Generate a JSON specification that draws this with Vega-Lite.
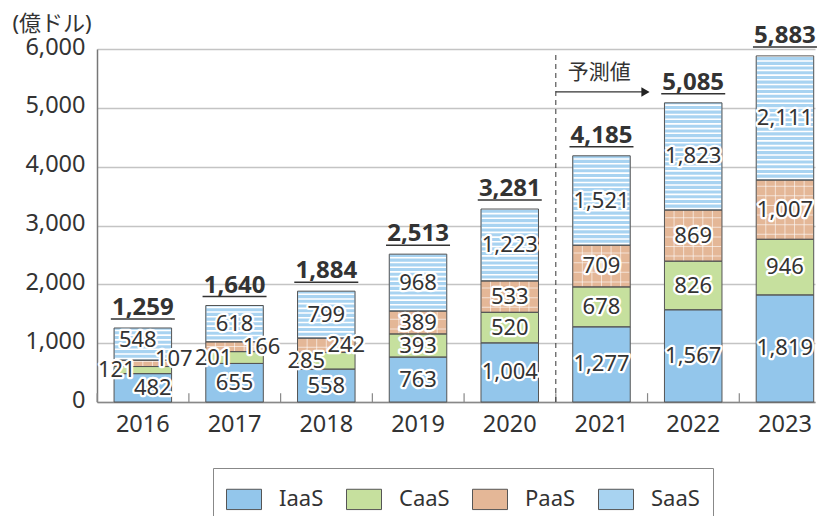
{
  "$schema": "https://vega.github.io/schema/vega-lite/v6.json",
  "width": 718,
  "height": 353,
  "autosize": {"type": "none"},
  "padding": {"left": 97, "top": 49, "right": 3, "bottom": 114},
  "background": "white",
  "config": {
    "font": "Noto Sans, Noto Sans CJK JP",
    "view": {"stroke": null}
  },
  "datasets": {
    "seg": [
      {"year": "2016", "type": "IaaS", "value": 482},
      {"year": "2016", "type": "CaaS", "value": 121},
      {"year": "2016", "type": "PaaS", "value": 107},
      {"year": "2016", "type": "SaaS", "value": 548},
      {"year": "2017", "type": "IaaS", "value": 655},
      {"year": "2017", "type": "CaaS", "value": 201},
      {"year": "2017", "type": "PaaS", "value": 166},
      {"year": "2017", "type": "SaaS", "value": 618},
      {"year": "2018", "type": "IaaS", "value": 558},
      {"year": "2018", "type": "CaaS", "value": 285},
      {"year": "2018", "type": "PaaS", "value": 242},
      {"year": "2018", "type": "SaaS", "value": 799},
      {"year": "2019", "type": "IaaS", "value": 763},
      {"year": "2019", "type": "CaaS", "value": 393},
      {"year": "2019", "type": "PaaS", "value": 389},
      {"year": "2019", "type": "SaaS", "value": 968},
      {"year": "2020", "type": "IaaS", "value": 1004},
      {"year": "2020", "type": "CaaS", "value": 520},
      {"year": "2020", "type": "PaaS", "value": 533},
      {"year": "2020", "type": "SaaS", "value": 1223},
      {"year": "2021", "type": "IaaS", "value": 1277},
      {"year": "2021", "type": "CaaS", "value": 678},
      {"year": "2021", "type": "PaaS", "value": 709},
      {"year": "2021", "type": "SaaS", "value": 1521},
      {"year": "2022", "type": "IaaS", "value": 1567},
      {"year": "2022", "type": "CaaS", "value": 826},
      {"year": "2022", "type": "PaaS", "value": 869},
      {"year": "2022", "type": "SaaS", "value": 1823},
      {"year": "2023", "type": "IaaS", "value": 1819},
      {"year": "2023", "type": "CaaS", "value": 946},
      {"year": "2023", "type": "PaaS", "value": 1007},
      {"year": "2023", "type": "SaaS", "value": 2111}
    ],
    "tot": [
      {"year": "2016", "total": 1259},
      {"year": "2017", "total": 1640},
      {"year": "2018", "total": 1884},
      {"year": "2019", "total": 2513},
      {"year": "2020", "total": 3281},
      {"year": "2021", "total": 4185},
      {"year": "2022", "total": 5085},
      {"year": "2023", "total": 5883}
    ],
    "ann": [{"label": "予測値"}]
  },
  "layer": [
    {
      "data": {"name": "seg"},
      "transform": [{"calculate": "indexof(['IaaS','CaaS','PaaS','SaaS'], datum.type)", "as": "ord"}],
      "mark": {"type": "bar"},
      "encoding": {
        "x": {
          "field": "year", "type": "nominal",
          "scale": {"paddingInner": 0.373, "paddingOuter": 0.1, "align": 0.93},
          "axis": {
            "title": null, "labelAngle": 0, "labelFontSize": 23.5, "labelColor": "#333333",
            "domainColor": "#888888", "domainWidth": 1.5,
            "ticks": false, "tickSize": 0,
            "labelPadding": 10, "grid": false
          }
        },
        "y": {
          "field": "value", "type": "quantitative", "stack": "zero",
          "scale": {"domain": [0, 6000], "nice": false},
          "axis": {
            "values": [0, 1000, 2000, 3000, 4000, 5000, 6000],
            "labelExpr": "format(datum.value, ',')",
            "title": "(億ドル)", "titleAngle": 0, "titleX": -85, "titleY": -19,
            "titleAlign": "left", "titleBaseline": "alphabetic",
            "titleFontSize": 22, "titleFontWeight": "normal", "titleColor": "#333333",
            "labelFontSize": 23.5, "labelColor": "#333333", "labelPadding": 12,
            "ticks": false, "tickSize": 0, "labelOffset": -2,
            "domainColor": "#777777", "domainWidth": 1.5,
            "grid": true, "gridColor": "#c4c4c4", "gridWidth": 1.5
          }
        },
        "color": {
          "field": "type", "type": "nominal",
          "scale": {"domain": ["IaaS", "CaaS", "PaaS", "SaaS"], "range": ["#93c6eb", "#c6e09e", "#e4b797", "#a8d3f1"]},
          "legend": {
            "orient": "none", "legendX": 116, "legendY": 419, "direction": "horizontal",
            "title": null, "strokeColor": "#888888", "padding": 13,
            "symbolType": "M-1,-0.58H1V0.58H-1Z", "symbolSize": 1225,
            "symbolStrokeColor": "#555555", "symbolStrokeWidth": 1, "symbolOpacity": 1,
            "labelFontSize": 22, "labelColor": "#333333", "columnPadding": 20, "labelOffset": 17,
            "values": ["IaaS", "CaaS", "PaaS", "SaaS"]
          }
        },
        "order": {"field": "ord", "type": "quantitative", "sort": "ascending"}
      }
    },
    {
      "data": {"name": "seg"},
      "transform": [
        {"calculate": "indexof(['IaaS','CaaS','PaaS','SaaS'], datum.type)", "as": "ord"},
        {"stack": "value", "groupby": ["year"], "sort": [{"field": "ord", "order": "ascending"}], "as": ["v0", "v1"]},
        {"filter": "datum.type == 'SaaS'"}
      ],
      "mark": {"type": "rule", "color": "white", "strokeWidth": 56, "strokeDash": [1.6, 3.1], "strokeDashOffset": 3.9, "strokeCap": "butt"},
      "encoding": {
        "x": {"field": "year", "type": "nominal"},
        "y": {"field": "v0", "type": "quantitative"},
        "y2": {"field": "v1"}
      }
    },
    {
      "data": {"name": "seg"},
      "transform": [
        {"calculate": "indexof(['IaaS','CaaS','PaaS','SaaS'], datum.type)", "as": "ord"},
        {"stack": "value", "groupby": ["year"], "sort": [{"field": "ord", "order": "ascending"}], "as": ["v0", "v1"]},
        {"filter": "datum.type == 'PaaS'"}
      ],
      "encoding": {
        "y": {"field": "v0", "type": "quantitative"},
        "y2": {"field": "v1"}
      },
      "layer": [
        {
          "mark": {"type": "rule", "color": "white", "strokeOpacity": 0.6, "strokeWidth": 56, "strokeDash": [1, 8.6], "strokeDashOffset": 5, "strokeCap": "butt"},
          "encoding": {"x": {"field": "year", "type": "nominal"}}
        },
        {
          "mark": {"type": "rule", "color": "white", "strokeOpacity": 0.6, "strokeWidth": 1},
          "encoding": {"x": {"field": "year", "type": "nominal", "bandPosition": 0.1667}}
        },
        {
          "mark": {"type": "rule", "color": "white", "strokeOpacity": 0.6, "strokeWidth": 1},
          "encoding": {"x": {"field": "year", "type": "nominal", "bandPosition": 0.3333}}
        },
        {
          "mark": {"type": "rule", "color": "white", "strokeOpacity": 0.6, "strokeWidth": 1},
          "encoding": {"x": {"field": "year", "type": "nominal", "bandPosition": 0.5}}
        },
        {
          "mark": {"type": "rule", "color": "white", "strokeOpacity": 0.6, "strokeWidth": 1},
          "encoding": {"x": {"field": "year", "type": "nominal", "bandPosition": 0.6667}}
        },
        {
          "mark": {"type": "rule", "color": "white", "strokeOpacity": 0.6, "strokeWidth": 1},
          "encoding": {"x": {"field": "year", "type": "nominal", "bandPosition": 0.8333}}
        }
      ]
    },
    {
      "data": {"name": "seg"},
      "transform": [{"calculate": "indexof(['IaaS','CaaS','PaaS','SaaS'], datum.type)", "as": "ord"}],
      "mark": {"type": "bar", "fillOpacity": 0, "stroke": "#555555", "strokeWidth": 1},
      "encoding": {
        "x": {"field": "year", "type": "nominal"},
        "y": {"field": "value", "type": "quantitative", "stack": "zero"},
        "detail": {"field": "type", "type": "nominal"},
        "order": {"field": "ord", "type": "quantitative", "sort": "ascending"}
      }
    },
    {
      "data": {"name": "seg"},
      "transform": [{"calculate": "indexof(['IaaS','CaaS','PaaS','SaaS'], datum.type)", "as": "ord"}],
      "mark": {
        "type": "text", "fontSize": 22, "baseline": "middle",
        "stroke": "white", "strokeWidth": 4.5, "strokeJoin": "round", "fill": "white",
        "dx": {"expr": "datum.type=='CaaS' ? (datum.year=='2016' ? -26 : datum.year=='2017' ? -21 : datum.year=='2018' ? -20 : 0) : datum.type=='PaaS' ? (datum.year=='2016' ? 31 : datum.year=='2017' ? 27 : datum.year=='2018' ? 20 : 0) : datum.year=='2016' ? (datum.type=='SaaS' ? -5 : 10) : 0"},
        "dy": {"expr": "datum.year=='2016' && (datum.type=='SaaS' || datum.type=='PaaS') ? -4 : 0"}
      },
      "encoding": {
        "x": {"field": "year", "type": "nominal"},
        "y": {"field": "value", "type": "quantitative", "stack": "zero", "bandPosition": 0.5},
        "detail": {"field": "type", "type": "nominal"},
        "order": {"field": "ord", "type": "quantitative", "sort": "ascending"},
        "text": {"field": "value", "type": "quantitative", "format": ","}
      }
    },
    {
      "data": {"name": "seg"},
      "transform": [{"calculate": "indexof(['IaaS','CaaS','PaaS','SaaS'], datum.type)", "as": "ord"}],
      "mark": {
        "type": "text", "fontSize": 22, "baseline": "middle", "fill": "#333333",
        "dx": {"expr": "datum.type=='CaaS' ? (datum.year=='2016' ? -26 : datum.year=='2017' ? -21 : datum.year=='2018' ? -20 : 0) : datum.type=='PaaS' ? (datum.year=='2016' ? 31 : datum.year=='2017' ? 27 : datum.year=='2018' ? 20 : 0) : datum.year=='2016' ? (datum.type=='SaaS' ? -5 : 10) : 0"},
        "dy": {"expr": "datum.year=='2016' && (datum.type=='SaaS' || datum.type=='PaaS') ? -4 : 0"}
      },
      "encoding": {
        "x": {"field": "year", "type": "nominal"},
        "y": {"field": "value", "type": "quantitative", "stack": "zero", "bandPosition": 0.5},
        "detail": {"field": "type", "type": "nominal"},
        "order": {"field": "ord", "type": "quantitative", "sort": "ascending"},
        "text": {"field": "value", "type": "quantitative", "format": ","}
      }
    },
    {
      "data": {"name": "tot"},
      "mark": {"type": "text", "fontSize": 24, "fontWeight": "bold", "baseline": "alphabetic", "dy": -13, "fill": "#333333"},
      "encoding": {
        "x": {"field": "year", "type": "nominal"},
        "y": {"field": "total", "type": "quantitative"},
        "text": {"field": "total", "type": "quantitative", "format": ","}
      }
    },
    {
      "data": {"name": "tot"},
      "mark": {"type": "tick", "size": 64, "thickness": 1.5, "yOffset": -9, "color": "#333333", "opacity": 1},
      "encoding": {
        "x": {"field": "year", "type": "nominal"},
        "y": {"field": "total", "type": "quantitative"}
      }
    },
    {
      "data": {"name": "tot"},
      "mark": {"type": "rule", "color": "#888888", "strokeWidth": 1.2},
      "encoding": {
        "x": {"field": "year", "type": "nominal", "bandPosition": -0.294},
        "y": {"datum": 0, "type": "quantitative"},
        "y2": {"datum": 150}
      }
    },
    {
      "data": {"name": "ann"},
      "mark": {"type": "rule", "strokeDash": [5, 4], "strokeWidth": 1, "color": "#333333"},
      "encoding": {
        "x": {"datum": "2021", "type": "nominal", "bandPosition": -0.294},
        "y": {"datum": 0, "type": "quantitative"},
        "y2": {"datum": 5900}
      }
    },
    {
      "data": {"name": "ann"},
      "mark": {"type": "rule", "strokeWidth": 1.2, "color": "#333333"},
      "encoding": {
        "x": {"datum": "2021", "type": "nominal", "bandPosition": -0.294},
        "x2": {"datum": "2022", "bandPosition": -0.33},
        "y": {"datum": 5270, "type": "quantitative"}
      }
    },
    {
      "data": {"name": "ann"},
      "mark": {"type": "point", "shape": "triangle-right", "filled": true, "size": 90, "color": "#222222", "opacity": 1},
      "encoding": {
        "x": {"datum": "2022", "type": "nominal", "bandPosition": -0.33},
        "y": {"datum": 5270, "type": "quantitative"}
      }
    },
    {
      "data": {"name": "ann"},
      "mark": {"type": "text", "fontSize": 21, "align": "left", "baseline": "middle", "dx": 12, "fill": "#333333"},
      "encoding": {
        "x": {"datum": "2021", "type": "nominal", "bandPosition": -0.294},
        "y": {"datum": 5600, "type": "quantitative"},
        "text": {"field": "label"}
      }
    }
  ]
}
